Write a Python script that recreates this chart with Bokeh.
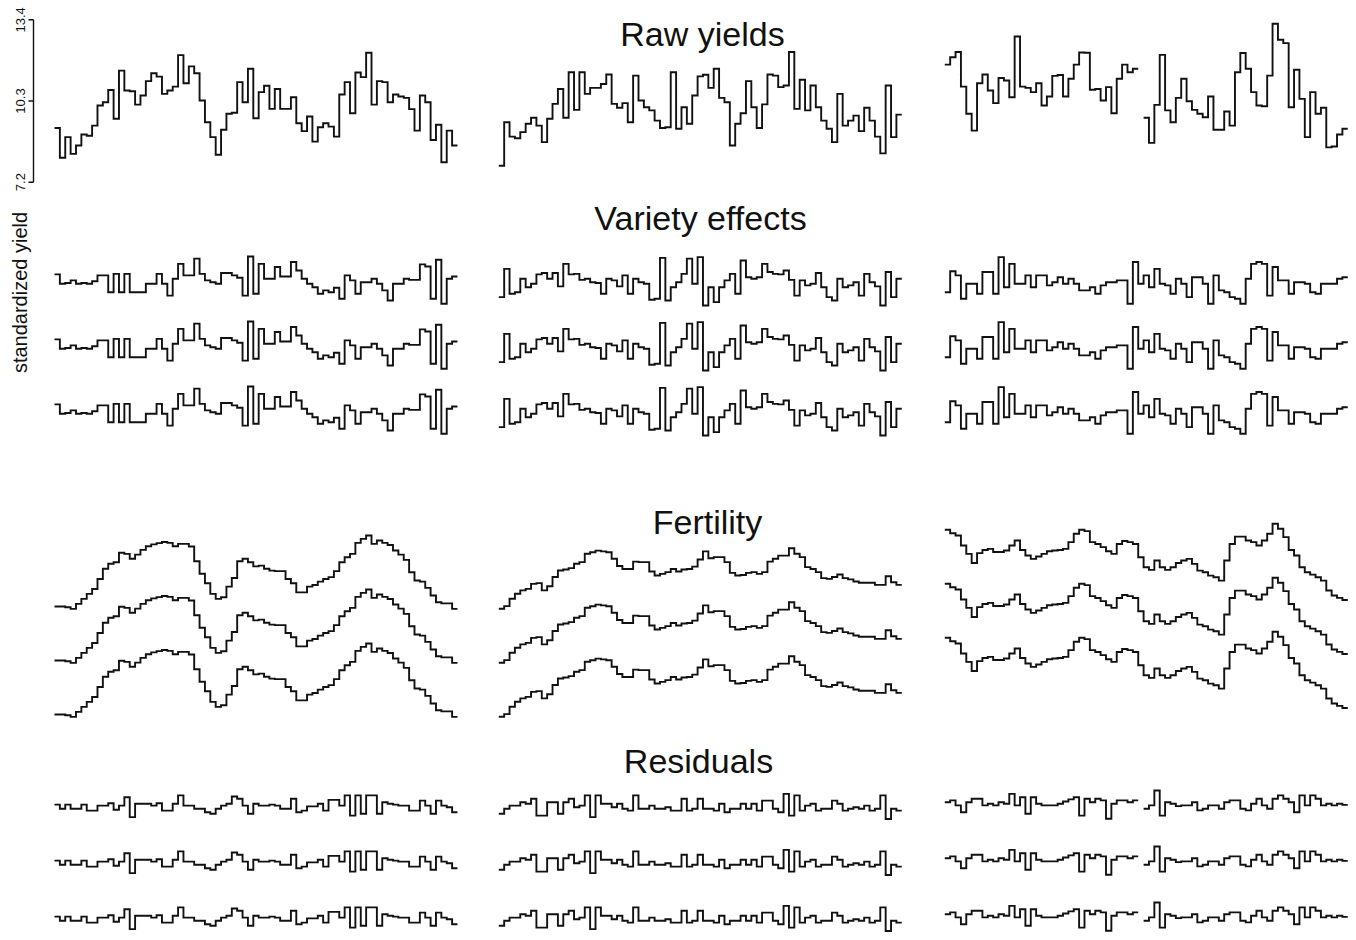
import numpy as np
from bokeh.plotting import figure
from bokeh.models import Range1d
from bokeh.core.properties import value
from bokeh.embed import file_html
from bokeh.resources import INLINE

nan = float("nan")

# ---------------- data ----------------
# Raw yields, one series per block (75 plots each); yield units
raw_block1 = [9.27, 8.13, 8.92, 8.28, 8.60, 9.02, 8.97, 9.36, 10.13, 10.25,
              10.72, 9.62, 11.46, 10.70, 10.67, 10.16, 10.51, 11.06, 11.36, 11.23,
              10.57, 10.70, 10.85, 12.05, 10.98, 11.62, 11.36, 10.32, 9.49, 8.92,
              8.25, 9.20, 9.81, 9.85, 11.02, 10.25, 11.53, 9.64, 10.64, 10.88,
              10.00, 10.76, 10.00, 10.00, 10.44, 9.45, 9.15, 9.71, 8.75, 9.30,
              9.45, 9.32, 8.94, 10.55, 11.02, 9.83, 11.39, 11.21, 12.14, 10.16,
              11.06, 11.02, 10.25, 10.55, 10.47, 10.42, 9.99, 9.17, 10.51, 10.25,
              8.81, 9.39, 7.96, 9.17, 8.60]
raw_block2 = [7.83, 9.49, 8.94, 8.88, 9.11, 9.43, 9.66, 9.36, 8.73, 9.62,
              10.19, 10.76, 9.66, 11.40, 9.96, 11.40, 10.57, 10.80, 10.80, 10.95,
              11.31, 10.19, 10.04, 10.22, 9.49, 11.27, 10.32, 10.06, 9.94, 9.55,
              9.27, 9.30, 11.40, 9.24, 10.06, 9.43, 10.51, 11.24, 11.30, 10.80,
              11.53, 10.42, 10.25, 8.60, 9.43, 9.83, 11.06, 10.06, 9.27, 10.17,
              11.31, 11.27, 10.83, 10.89, 12.17, 10.00, 11.11, 9.94, 10.89, 10.06,
              9.55, 9.24, 8.73, 10.57, 9.36, 9.55, 9.74, 9.15, 10.04, 9.55,
              8.94, 8.30, 10.89, 8.92, 9.78]
raw_block3 = [11.69, 11.97, 12.17, 10.85, 9.81, 9.17, 10.98, 11.31, 10.70, 10.22,
              11.18, 11.08, 10.44, 12.76, 10.85, 10.80, 10.64, 10.98, 10.13, 10.47,
              11.26, 11.29, 10.47, 11.15, 11.69, 12.15, 12.14, 10.73, 10.76, 10.32,
              10.83, 9.83, 11.15, 11.69, 11.40, 11.53, nan, 9.66, 8.70, 10.15,
              12.06, 9.94, 9.49, 10.42, 11.15, 10.29, 9.96, 9.81, 9.68, 10.47,
              9.20, 9.20, 9.90, 9.36, 11.40, 12.13, 11.53, 10.64, 10.13, 10.10,
              11.27, 13.25, 12.64, 12.51, 10.06, 11.49, 10.38, 8.92, 10.64, 9.81,
              10.04, 8.53, 8.56, 9.02, 9.24]

# Variety effects (standardized units)
variety_block1 = [0.36, 0.00, 0.03, 0.13, 0.00, 0.03, 0.00, 0.10, 0.32, 0.32,
                  -0.32, 0.38, -0.32, 0.38, -0.32, -0.32, -0.32, 0.00, 0.00, 0.38,
                  0.00, -0.45, 0.19, 0.76, 0.32, 0.32, 0.96, 0.38, 0.13, 0.06,
                  0.00, 0.41, 0.41, 0.32, 0.23, -0.45, 1.04, -0.38, 0.76, 0.19,
                  0.19, 0.64, 0.28, 0.28, 0.83, 0.51, 0.19, 0.00, -0.13, -0.38,
                  -0.25, -0.32, -0.15, -0.57, 0.32, 0.13, -0.38, 0.06, 0.06, 0.19,
                  0.00, -0.25, -0.64, 0.00, 0.00, 0.19, 0.15, 0.15, 0.74, 0.66,
                  -0.57, 0.92, -0.76, 0.19, 0.28]
variety_block2 = [-0.51, 0.57, -0.38, -0.32, 0.19, -0.13, 0.00, 0.36, 0.41, 0.19,
                  0.41, -0.10, 0.76, 0.36, 0.38, 0.15, 0.19, 0.06, 0.03, -0.38,
                  0.19, 0.13, -0.10, 0.32, -0.38, 0.19, 0.06, 0.00, -0.61, -0.57,
                  0.99, -0.64, -0.13, 0.06, 0.38, 0.96, 0.00, 1.02, -0.83, -0.13,
                  -0.70, -0.13, 0.13, 0.38, -0.38, 0.89, 0.25, 0.19, 0.25, 0.76,
                  0.45, 0.38, 0.36, 0.51, 0.15, -0.45, 0.13, -0.06, 0.00, 0.41,
                  -0.13, -0.51, -0.64, 0.19, -0.13, -0.06, 0.06, -0.45, 0.38, 0.06,
                  -0.10, -0.83, 0.45, -0.51, 0.19]
variety_block3 = [-0.32, 0.48, 0.32, -0.57, 0.00, 0.00, -0.38, 0.45, 0.45, -0.38,
                  1.02, -0.13, 0.76, 0.00, 0.00, 0.32, -0.13, 0.32, 0.32, -0.06,
                  0.06, 0.25, 0.00, 0.19, 0.00, -0.25, -0.25, -0.13, -0.38, -0.06,
                  0.06, 0.06, 0.13, 0.13, -0.76, 0.83, 0.00, 0.32, -0.13, 0.57,
                  0.00, -0.06, -0.38, 0.19, 0.00, -0.51, 0.25, 0.25, 0.00, -0.76,
                  0.32, -0.25, -0.32, -0.51, -0.57, -0.76, 0.19, 0.76, 0.83, 0.76,
                  -0.45, 0.64, 0.13, 0.13, -0.38, 0.06, 0.06, 0.00, -0.32, -0.38,
                  0.00, 0.00, 0.00, 0.19, 0.25]

# Fertility
fertility_block1 = [-1.50, -1.50, -1.53, -1.59, -1.40, -1.21, -1.02, -0.83, -0.45, -0.06,
                    0.13, 0.19, 0.55, 0.51, 0.32, 0.48, 0.66, 0.80, 0.87, 0.92,
                    0.96, 0.93, 0.80, 0.89, 0.89, 0.79, 0.23, -0.25, -0.61, -1.02,
                    -1.21, -1.15, -0.74, -0.41, 0.23, 0.32, 0.19, 0.03, 0.06, -0.06,
                    -0.13, -0.15, -0.15, -0.45, -0.61, -0.96, -0.96, -0.74, -0.68, -0.55,
                    -0.45, -0.38, -0.15, 0.19, 0.38, 0.51, 0.93, 1.08, 1.21, 0.89,
                    1.02, 0.93, 0.85, 0.64, 0.48, 0.28, -0.19, -0.51, -0.55, -0.79,
                    -1.08, -1.34, -1.38, -1.38, -1.59]
fertility_block2 = [-0.25, -0.15, 0.13, 0.32, 0.45, 0.51, 0.70, 0.73, 0.45, 0.61,
                    0.96, 1.21, 1.25, 1.30, 1.47, 1.53, 1.85, 1.91, 1.97, 1.94,
                    1.91, 1.66, 1.38, 1.27, 1.27, 1.55, 1.53, 1.53, 1.17, 1.02,
                    1.08, 1.15, 1.27, 1.17, 1.25, 1.27, 1.36, 1.63, 1.94, 1.68,
                    1.72, 1.72, 1.53, 1.12, 1.02, 1.04, 1.12, 1.15, 1.08, 1.15,
                    1.55, 1.66, 1.78, 1.78, 2.06, 1.85, 1.72, 1.34, 1.27, 1.15,
                    0.92, 0.89, 0.96, 1.06, 0.92, 0.87, 0.79, 0.74, 0.74, 0.74,
                    0.66, 0.66, 0.99, 0.76, 0.66]
fertility_block3 = [1.81, 1.68, 1.59, 1.21, 0.89, 0.54, 0.92, 1.04, 1.08, 0.96,
                    0.96, 1.02, 1.21, 1.40, 1.04, 0.83, 0.70, 0.79, 0.89, 0.99,
                    1.02, 1.04, 1.08, 1.34, 1.66, 1.81, 1.76, 1.34, 1.27, 1.15,
                    0.99, 0.89, 1.27, 1.38, 1.34, 1.27, 0.76, 0.38, 0.28, 0.64,
                    0.38, 0.28, 0.38, 0.54, 0.64, 0.70, 0.51, 0.25, 0.19, 0.06,
                    0.00, -0.13, 0.64, 1.27, 1.55, 1.55, 1.40, 1.34, 1.21, 1.40,
                    1.66, 2.04, 1.85, 1.53, 1.04, 0.83, 0.38, 0.19, 0.10, 0.00,
                    -0.13, -0.51, -0.70, -0.79, -0.87]

# Residuals
residual_block1 = [0.10, -0.06, 0.10, -0.06, -0.06, 0.10, -0.13, -0.13, 0.06, 0.06,
                   0.15, -0.10, 0.06, 0.38, -0.38, 0.13, 0.13, 0.13, 0.06, 0.15,
                   -0.13, -0.13, 0.13, 0.45, 0.06, 0.06, -0.06, -0.06, -0.19, -0.25,
                   -0.06, 0.06, 0.13, 0.41, 0.32, 0.06, -0.25, 0.13, 0.06, 0.06,
                   0.10, 0.06, -0.06, -0.06, 0.32, -0.19, -0.13, 0.03, 0.03, 0.13,
                   -0.13, 0.28, 0.28, 0.06, 0.45, -0.32, 0.45, -0.25, 0.45, 0.45,
                   -0.25, 0.19, 0.13, 0.10, 0.06, 0.06, -0.13, -0.13, 0.25, 0.06,
                   -0.25, 0.25, 0.06, 0.00, -0.19]
residual_block2 = [-0.25, -0.06, 0.06, 0.06, 0.19, 0.13, 0.32, -0.32, -0.32, 0.19,
                   0.19, -0.25, 0.19, 0.32, 0.00, 0.06, 0.45, -0.38, 0.45, 0.13,
                   0.13, 0.00, 0.13, -0.06, -0.13, 0.45, -0.06, -0.06, 0.06, -0.06,
                   -0.06, 0.00, -0.13, -0.13, 0.32, -0.13, -0.06, 0.32, -0.06, -0.06,
                   -0.13, 0.13, -0.19, -0.06, -0.06, 0.13, -0.06, 0.13, -0.13, 0.25,
                   0.25, -0.06, -0.19, 0.51, -0.32, 0.45, -0.13, 0.06, 0.13, -0.13,
                   -0.06, -0.06, 0.25, 0.13, -0.13, -0.06, 0.00, -0.06, 0.06, -0.13,
                   -0.06, 0.45, -0.45, -0.06, -0.13]
residual_block3 = [0.06, 0.13, -0.06, -0.32, 0.06, 0.19, 0.19, -0.06, 0.00, -0.06,
                   0.06, 0.00, 0.38, -0.06, 0.25, -0.38, 0.25, 0.00, -0.06, -0.06,
                   -0.06, 0.00, 0.09, 0.17, 0.25, -0.45, 0.19, 0.06, 0.19, 0.13,
                   -0.57, 0.00, 0.13, 0.13, 0.06, 0.13, nan, -0.19, -0.06, 0.51,
                   -0.45, 0.06, 0.00, -0.09, -0.06, -0.06, 0.06, -0.25, -0.19, -0.06,
                   -0.06, -0.19, 0.06, 0.13, 0.13, -0.19, -0.25, 0.00, 0.19, -0.06,
                   -0.19, 0.19, 0.32, 0.19, 0.06, -0.32, 0.32, -0.06, 0.32, 0.19,
                   -0.06, 0.00, -0.06, 0.00, -0.04]

axis_ticks = [7.2, 10.3, 13.4]
axis_tick_labels = ["7.2", "10.3", "13.4"]
panel_titles = ["Raw yields", "Variety effects", "Fertility", "Residuals"]
y_label = "standardized yield"

# ---------------- layout constants ----------------
W, H = 1356, 940
PX_PER_STEP = 5.373          # one plot = this many pixels
X0_PX = 54.0                 # left edge of block 1
PX_PER_UNIT = 26.19          # vertical pixels per yield unit
Y_TOP = 13.4 + 19.3 / PX_PER_UNIT
X_START = -X0_PX / PX_PER_STEP


def xd(px):
    return X_START + px / PX_PER_STEP


def yd(px):
    return Y_TOP - px / PX_PER_UNIT


BLOCK_START = [(54.0 - X0_PX) / PX_PER_STEP,
               (498.3 - X0_PX) / PX_PER_STEP,
               (944.3 - X0_PX) / PX_PER_STEP]

VAR_ZERO_PX = [283.3, 283.3, 283.3]
VAR_GAP_PX = 65.0
FERT_ZERO_PX = [566.7, 601.7, 576.7]
FERT_GAP_PX = 54.0
RES_ZERO_PX = [806.7, 806.7, 803.3]
RES_GAP_PX = 56.0

LINE_COLOR = "#111111"
LINE_W = 1.9
FONT = "Liberation Sans"

p = figure(width=W, height=H, output_backend="svg", toolbar_location=None,
           x_range=Range1d(X_START, X_START + W / PX_PER_STEP),
           y_range=Range1d(Y_TOP - H / PX_PER_UNIT, Y_TOP),
           x_axis_location=None, y_axis_location=None, min_border=0)
p.grid.visible = False
p.outline_line_color = None
p.background_fill_color = "white"
p.border_fill_color = "white"


def step_xy(vals, x0, offset):
    xs, ys = [], []
    for i, v in enumerate(vals):
        if np.isnan(v):
            xs.append(nan)
            ys.append(nan)
        else:
            xs += [x0 + i, x0 + i + 1]
            ys += [v + offset, v + offset]
    return xs, ys


def draw(vals, block, offset):
    xs, ys = step_xy(vals, BLOCK_START[block], offset)
    p.line(xs, ys, line_color=LINE_COLOR, line_width=LINE_W, line_join="miter")


raws = [raw_block1, raw_block2, raw_block3]
varieties = [variety_block1, variety_block2, variety_block3]
fertilities = [fertility_block1, fertility_block2, fertility_block3]
residuals = [residual_block1, residual_block2, residual_block3]

for b in range(3):
    draw(raws[b], b, 0.0)
    for r in range(3):
        draw(varieties[b], b, yd(VAR_ZERO_PX[b] + r * VAR_GAP_PX))
        draw(fertilities[b], b, yd(FERT_ZERO_PX[b] + r * FERT_GAP_PX))
        draw(residuals[b], b, yd(RES_ZERO_PX[b] + r * RES_GAP_PX))

# left axis for raw yields
ax_x = xd(33.0)
p.segment(x0=[ax_x], y0=[min(axis_ticks)], x1=[ax_x], y1=[max(axis_ticks)],
          line_color=LINE_COLOR, line_width=1.4)
p.segment(x0=[xd(28.0)] * 3, y0=axis_ticks, x1=[ax_x] * 3, y1=axis_ticks,
          line_color=LINE_COLOR, line_width=1.4)
p.text(x=[xd(20.0)] * 3, y=axis_ticks, text=axis_tick_labels, angle=np.pi / 2,
       text_align="center", text_baseline="middle",
       text_font=value(FONT), text_font_size=value("13px"), text_color="#111111")

p.text(x=[xd(19.0)], y=[yd(292.0)], text=[y_label], angle=np.pi / 2,
       text_align="center", text_baseline="middle",
       text_font=value(FONT), text_font_size=value("20px"), text_color="#111111")

title_px = [(702, 33), (700, 217), (707, 521), (698, 760)]
p.text(x=[xd(t[0]) for t in title_px], y=[yd(t[1]) for t in title_px], text=panel_titles,
       text_align="center", text_baseline="middle",
       text_font=value(FONT), text_font_size=value("34px"), text_color="#111111")

open("out.html", "w").write(file_html(p, INLINE))
